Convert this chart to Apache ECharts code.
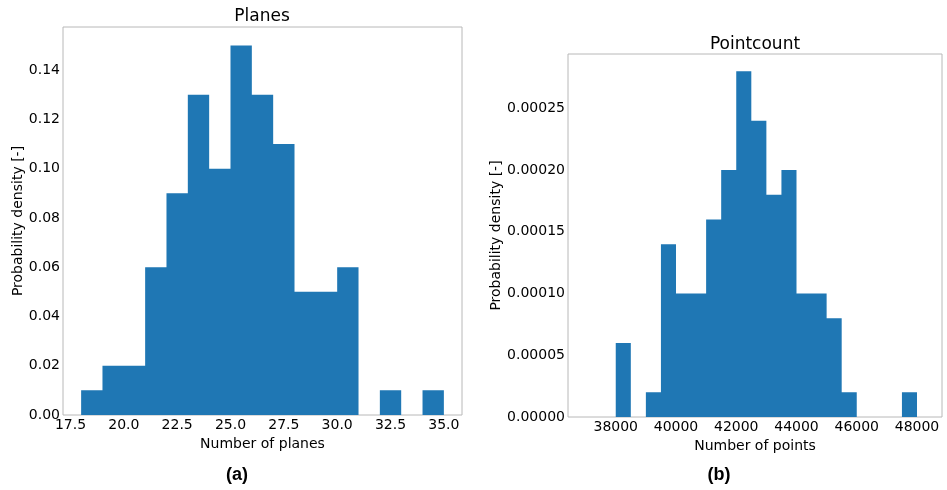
<!DOCTYPE html>
<html>
<head>
<meta charset="utf-8">
<script src="https://cdn.jsdelivr.net/npm/echarts@6/dist/echarts.min.js"></script>
<style>
  html, body { margin: 0; padding: 0; background: #fff; }
  #main { width: 947px; height: 490px; }
</style>
</head>
<body>
<div id="main"></div>
<script>
// histogram (a): number of planes, bins of width 1
var planeEdges = [18,19,20,21,22,23,24,25,26,27,28,29,30,31,32,33,34,35];
var planeDensity = [0.01,0.02,0.02,0.06,0.09,0.13,0.10,0.15,0.13,0.11,0.05,0.05,0.06,0,0.01,0,0.01];
var planeXTicks = [17.5,20,22.5,25,27.5,30,32.5,35];
var planeYTicks = [0,0.02,0.04,0.06,0.08,0.10,0.12,0.14];

// histogram (b): number of points, bins of width 500
var pointEdges = [38000,38500,39000,39500,40000,40500,41000,41500,42000,42500,43000,
    43500,44000,44500,45000,45500,46000,46500,47000,47500,48000];
var pointDensity = [0.00006,0,0.00002,0.00014,0.00010,0.00010,0.00016,0.00020,0.00028,0.00024,
    0.00018,0.00020,0.00010,0.00010,0.00008,0.00002,0,0,0,0.00002];
var pointXTicks = [38000,40000,42000,44000,46000,48000];
var pointYTicks = [0,0.00005,0.00010,0.00015,0.00020,0.00025];

function stepPoints(edges, heights) {
    var pts = [[edges[0], 0]];
    for (var i = 0; i < heights.length; i++) {
        pts.push([edges[i], heights[i]]);
    }
    pts.push([edges[edges.length - 1], 0]);
    return pts;
}

var font = 'DejaVu Sans';
var barColor = '#1f77b4';
var frameColor = '#b8b8b8';

function xAxisOf(idx, min, max, ticks, digits, name) {
    return {
        type: 'value', gridIndex: idx, min: min, max: max,
        name: name, nameLocation: 'middle', nameGap: 18,
        nameTextStyle: {fontFamily: font, fontSize: 14, color: '#000'},
        axisLine: {show: false}, axisTick: {show: false}, splitLine: {show: false},
        axisLabel: {
            customValues: ticks, margin: 3,
            fontFamily: font, fontSize: 14, color: '#000',
            formatter: function (v) { return v.toFixed(digits); }
        }
    };
}
function yAxisOf(idx, max, ticks, digits, gap) {
    return {
        type: 'value', gridIndex: idx, min: 0, max: max,
        name: 'Probability density [-]', nameLocation: 'middle', nameGap: gap,
        nameTextStyle: {fontFamily: font, fontSize: 14, color: '#000'},
        axisLine: {show: false}, axisTick: {show: false}, splitLine: {show: false},
        axisLabel: {
            customValues: ticks, margin: 3,
            fontFamily: font, fontSize: 14, color: '#000',
            formatter: function (v) { return v.toFixed(digits); }
        }
    };
}
function histSeries(idx, edges, heights) {
    return {
        type: 'line', xAxisIndex: idx, yAxisIndex: idx,
        step: 'end', symbol: 'none', silent: true,
        data: stepPoints(edges, heights),
        lineStyle: {color: barColor, width: 0, opacity: 0},
        areaStyle: {color: barColor, opacity: 1}
    };
}

var myChart = echarts.init(document.getElementById('main'));

var option = {
    animation: false,
    title: [
        {text: 'Planes', left: 262, top: 8, textAlign: 'center', padding: 0,
            textStyle: {fontFamily: font, fontSize: 17, fontWeight: 'normal', color: '#000'}},
        {text: 'Pointcount', left: 755, top: 36, textAlign: 'center', padding: 0,
            textStyle: {fontFamily: font, fontSize: 17, fontWeight: 'normal', color: '#000'}},
        {text: '(a)', left: 237, top: 466, textAlign: 'center', padding: 0,
            textStyle: {fontFamily: 'Liberation Sans', fontSize: 18, fontWeight: 'bold', color: '#000'}},
        {text: '(b)', left: 719, top: 466, textAlign: 'center', padding: 0,
            textStyle: {fontFamily: 'Liberation Sans', fontSize: 18, fontWeight: 'bold', color: '#000'}}
    ],
    grid: [
        {left: 63, right: 485, top: 27, bottom: 75, show: true,
            borderColor: frameColor, borderWidth: 1, backgroundColor: 'transparent'},
        {left: 568, right: 5, top: 54, bottom: 73, show: true,
            borderColor: frameColor, borderWidth: 1, backgroundColor: 'transparent'}
    ],
    xAxis: [
        xAxisOf(0, 17.15, 35.85, planeXTicks, 1, 'Number of planes'),
        xAxisOf(1, 36415, 48830, pointXTicks, 0, 'Number of points')
    ],
    yAxis: [
        yAxisOf(0, 0.1575, planeYTicks, 2, 36),
        yAxisOf(1, 0.000294, pointYTicks, 5, 59)
    ],
    series: [
        histSeries(0, planeEdges, planeDensity),
        histSeries(1, pointEdges, pointDensity)
    ]
};
myChart.setOption(option);
</script>
</body>
</html>
